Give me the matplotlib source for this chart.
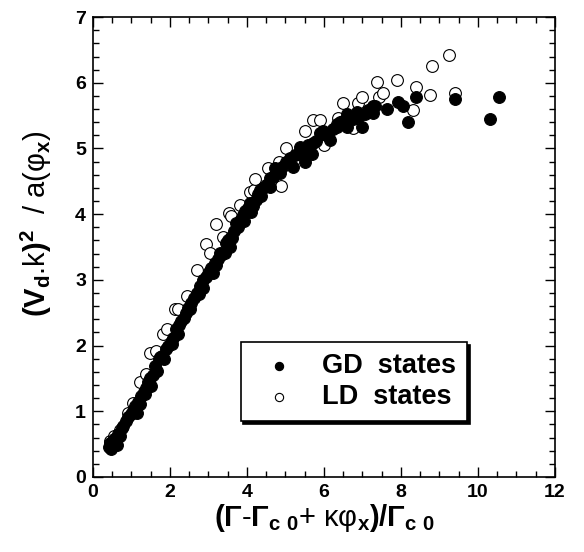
import matplotlib
matplotlib.use("Agg")
import matplotlib.pyplot as plt
from matplotlib.ticker import MultipleLocator

# GD states (filled circles)
gd_x = [0.42, 0.45, 0.48, 0.52, 0.55, 0.60, 0.62, 0.65, 0.70, 0.75, 0.79, 0.85,
        0.92, 0.98, 1.05, 1.10, 1.15, 1.22, 1.26, 1.32, 1.38, 1.44, 1.52, 1.56,
        1.61, 1.66, 1.73, 1.80, 1.85, 1.91, 1.95, 2.02, 2.08, 2.17, 2.22, 2.30,
        2.36, 2.42, 2.48, 2.56, 2.62, 2.70, 2.78, 2.87, 2.85, 2.95, 3.02, 3.08,
        3.16, 3.25, 3.30, 3.34, 3.43, 3.47, 3.52, 3.58, 3.66, 3.71, 3.78, 3.84,
        3.90, 3.96, 4.02, 4.08, 4.15, 4.25, 4.30, 4.34, 4.42, 4.50, 4.60, 4.60,
        4.68, 4.77, 4.86, 4.92, 5.03, 5.12, 5.20, 5.26, 5.38, 5.38, 5.45, 5.51,
        5.58, 5.64, 5.68, 5.72, 5.80, 5.90, 5.98, 6.05, 6.16, 6.25, 6.33, 6.33,
        6.42, 6.50, 6.59, 6.60, 6.68, 6.75, 6.85, 6.92, 6.98, 7.06, 7.15, 7.28,
        7.28, 7.34, 7.63, 7.93, 8.06, 8.19, 8.39, 9.42, 10.31, 10.55,
        1.18, 1.48, 2.05, 2.52, 3.12, 3.62, 4.12, 4.72, 5.32, 6.10,
        1.35, 1.75, 2.25, 2.75, 3.20, 3.55, 3.92, 4.38]
gd_y = [0.45, 0.52, 0.42, 0.50, 0.58, 0.55, 0.48, 0.66, 0.62, 0.74, 0.78, 0.85,
        0.91, 0.96, 1.01, 1.08, 0.98, 1.11, 1.23, 1.30, 1.36, 1.44, 1.39, 1.55,
        1.69, 1.62, 1.79, 1.84, 1.80, 1.94, 2.00, 2.05, 2.12, 2.25, 2.18, 2.37,
        2.42, 2.50, 2.57, 2.65, 2.72, 2.80, 2.90, 2.88, 3.00, 3.05, 3.12, 3.18,
        3.26, 3.32, 3.41, 3.38, 3.41, 3.56, 3.60, 3.66, 3.74, 3.86, 3.80, 3.92,
        3.99, 4.05, 4.10, 4.17, 4.12, 4.22, 4.30, 4.37, 4.40, 4.45, 4.42, 4.55,
        4.57, 4.62, 4.62, 4.72, 4.80, 4.85, 4.72, 4.90, 4.98, 5.03, 4.95, 4.80,
        5.05, 4.95, 4.92, 5.08, 5.12, 5.23, 5.27, 5.20, 5.13, 5.30, 5.32, 5.38,
        5.40, 5.42, 5.33, 5.52, 5.48, 5.45, 5.55, 5.50, 5.33, 5.53, 5.58, 5.54,
        5.64, 5.64, 5.60, 5.71, 5.64, 5.41, 5.79, 5.76, 5.45, 5.79,
        1.14, 1.50, 2.02, 2.55, 3.10, 3.64, 4.04, 4.70, 4.92, 5.22,
        1.26, 1.82, 2.32, 2.78, 3.22, 3.50, 3.90, 4.28]

# LD states (open circles)
ld_x = [0.45, 0.55, 0.70, 0.90, 1.05, 1.22, 1.37, 1.48, 1.64, 1.81, 1.93, 2.13,
        2.21, 2.45, 2.71, 2.95, 3.04, 3.21, 3.39, 3.54, 3.60, 3.82, 4.08, 4.18,
        4.21, 4.55, 4.84, 4.90, 5.01, 5.51, 5.72, 5.90, 6.01, 6.38, 6.49, 6.76,
        6.88, 6.98, 7.37, 7.44, 7.54, 7.89, 8.32, 8.39, 8.77, 8.80, 9.25, 9.40]
ld_y = [0.55, 0.62, 0.72, 0.98, 1.12, 1.44, 1.56, 1.88, 1.91, 2.18, 2.25, 2.55,
        2.55, 2.76, 3.15, 3.54, 3.41, 3.85, 3.66, 4.02, 3.97, 4.14, 4.34, 4.37,
        4.53, 4.71, 4.80, 4.43, 5.00, 5.26, 5.43, 5.43, 5.05, 5.47, 5.69, 5.31,
        5.69, 5.79, 6.01, 5.79, 5.85, 6.04, 5.58, 5.94, 5.81, 6.26, 6.43, 5.84]

plt.rcParams['font.family'] = ['Liberation Sans', 'DejaVu Sans']
plt.rcParams['font.weight'] = 'bold'
plt.rcParams['mathtext.fontset'] = 'custom'
plt.rcParams['mathtext.rm'] = 'Liberation Sans:bold'
plt.rcParams['mathtext.it'] = 'Liberation Sans:bold'
plt.rcParams['mathtext.bf'] = 'Liberation Sans:bold'

fig = plt.figure(figsize=(5.84, 5.52), dpi=100)
ax = fig.add_axes([0.159, 0.136, 0.791, 0.833])

ax.scatter(ld_x, ld_y, s=72, facecolor='white', edgecolor='black',
           linewidth=0.8, zorder=2, label='LD  states')
ax.scatter(gd_x, gd_y, s=72, facecolor='black', edgecolor='black',
           linewidth=0.8, zorder=3, label='GD  states')

ax.set_xlim(0, 12)
ax.set_ylim(0, 7)
ax.xaxis.set_major_locator(MultipleLocator(2))
ax.xaxis.set_minor_locator(MultipleLocator(0.5))
ax.yaxis.set_major_locator(MultipleLocator(1))
ax.yaxis.set_minor_locator(MultipleLocator(0.2))
ax.tick_params(which='both', direction='in', top=True, right=True,
               labelsize=14, width=1)
ax.tick_params(which='major', length=7, pad=5)
ax.tick_params(which='minor', length=4)
for sp in ax.spines.values():
    sp.set_linewidth(1.2)

ax.set_xlabel(r'$(Γ$-$Γ_{c\ 0}$+ κφ$_x)/Γ_{c\ 0}$', fontsize=21, labelpad=1)
ax.set_ylabel(r'$(V_d$.k$)^2$  / a(φ$_x$)', fontsize=21)
ax.yaxis.set_label_coords(-0.085, 0.55)

handles, labels = ax.get_legend_handles_labels()
leg = ax.legend(handles[::-1], labels[::-1], loc='upper left',
                bbox_to_anchor=(0.32, 0.293), borderaxespad=0,
                fontsize=19.5, markerscale=0.7,
                frameon=True, fancybox=False, edgecolor='black',
                handletextpad=0.6, borderpad=0.4, labelspacing=0.2,
                shadow={'color': 'black', 'alpha': 1})
leg.get_frame().set_linewidth(1.2)

fig.savefig('out.png', dpi=100)
